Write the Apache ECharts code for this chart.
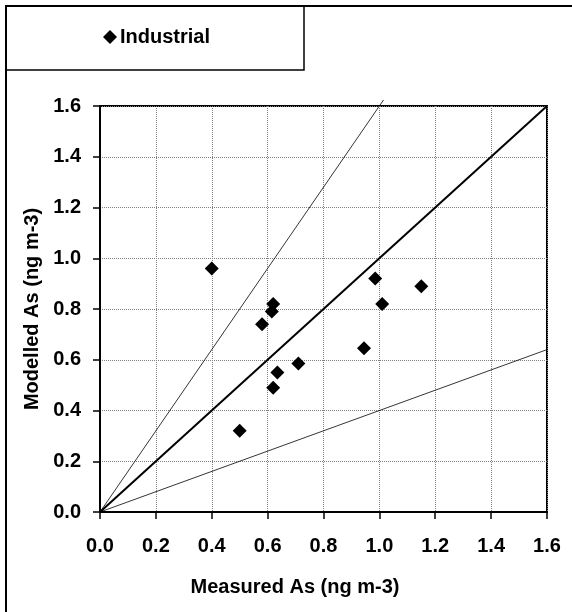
<!DOCTYPE html>
<html>
<head>
<meta charset="utf-8">
<script src="https://cdn.jsdelivr.net/npm/echarts@6/dist/echarts.min.js"></script>
<style>
  html, body { margin: 0; padding: 0; background: #fff; }
  #chart { width: 572px; height: 612px; }
</style>
</head>
<body>
<div id="chart"></div>
<script>
// Measured vs modelled arsenic at industrial sites (ng m-3)
const measured = [0.40, 0.50, 0.58, 0.615, 0.62, 0.635, 0.62, 0.71, 0.945, 0.985, 1.01, 1.15];
const modelled = [0.96, 0.32, 0.74, 0.79, 0.82, 0.55, 0.49, 0.585, 0.645, 0.92, 0.82, 0.89];

// Reference lines through the origin: 1:1 and the upper / lower bounds
const lineOneToOne = [[0, 0], [1.6, 1.6]];
const lineUpper = [[0, 0], [1.015, 1.624]];
const lineLower = [[0, 0], [1.6, 0.64]];

const axisMin = 0, axisMax = 1.6, axisStep = 0.2;
const seriesName = 'Industrial';
const xTitle = 'Measured As (ng m-3)';
const yTitle = 'Modelled As (ng m-3)';

const FONT = '"Liberation Sans", Arial, sans-serif';
const points = measured.map((m, i) => [m, modelled[i]]);

const chart = echarts.init(document.getElementById('chart'), null, { renderer: 'canvas' });

function valueAxis(extra) {
  return Object.assign({
    type: 'value',
    min: axisMin,
    max: axisMax,
    interval: axisStep,
    axisLine: { show: true, onZero: false, lineStyle: { color: '#000', width: 2 } },
    axisTick: { show: true, inside: false, length: 7, lineStyle: { color: '#000', width: 1.5 } },
    splitLine: { show: true, lineStyle: { color: '#808080', type: 'dotted', width: 1 } },
    nameLocation: 'middle'
  }, extra);
}

const tickLabel = margin => ({
  color: '#000', fontFamily: FONT, fontWeight: 'bold', fontSize: 20, margin: margin,
  formatter: v => v.toFixed(1)
});

chart.setOption({
  animation: false,
  backgroundColor: '#fff',
  grid: {
    left: 100, top: 106, width: 447, height: 406,
    show: true, borderColor: '#000', borderWidth: 2, backgroundColor: 'transparent'
  },
  legend: {
    left: 103, top: 27, padding: 0,
    itemWidth: 14, itemHeight: 14, itemGap: 10,
    icon: 'diamond',
    data: [seriesName],
    textStyle: { color: '#000', fontFamily: FONT, fontWeight: 'bold', fontSize: 20, padding: [0, 0, 0, -2] }
  },
  xAxis: valueAxis({
    name: xTitle, nameGap: 65,
    axisLabel: tickLabel(24),
    nameTextStyle: { color: '#000', fontFamily: FONT, fontWeight: 'bold', fontSize: 20, padding: [0, 57, 0, 0] }
  }),
  yAxis: valueAxis({
    name: yTitle, nameGap: 58,
    axisLabel: tickLabel(19),
    nameTextStyle: { color: '#000', fontFamily: FONT, fontWeight: 'bold', fontSize: 20 }
  }),
  graphic: [
    // outer chart frame (left and top edges)
    { type: 'polyline', shape: { points: [[6, 612], [6, 6], [572, 6]] },
      style: { stroke: '#000', lineWidth: 2, fill: null }, silent: true },
    // legend box
    { type: 'rect', shape: { x: 6, y: 6, width: 298, height: 64 },
      style: { stroke: '#000', lineWidth: 1.5, fill: null }, silent: true }
  ],
  series: [
    { type: 'line', data: lineUpper, showSymbol: false, clip: false, silent: true,
      lineStyle: { color: '#000', width: 0.8 }, z: 2 },
    { type: 'line', data: lineLower, showSymbol: false, silent: true,
      lineStyle: { color: '#000', width: 0.8 }, z: 2 },
    { type: 'line', data: lineOneToOne, showSymbol: false, silent: true,
      lineStyle: { color: '#000', width: 2 }, z: 2 },
    { name: seriesName, type: 'scatter', data: points, symbol: 'diamond', symbolSize: 14,
      itemStyle: { color: '#000', opacity: 1 }, z: 3 }
  ]
});
</script>
</body>
</html>
